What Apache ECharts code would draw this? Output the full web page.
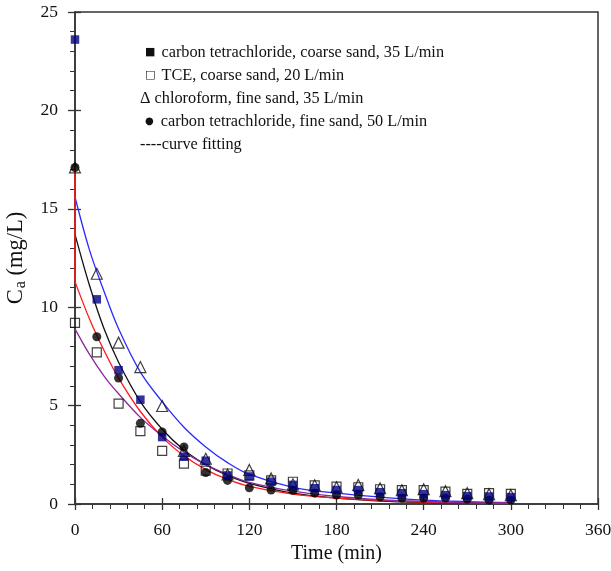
<!DOCTYPE html>
<html>
<head>
<meta charset="utf-8">
<script src="https://cdn.jsdelivr.net/npm/echarts@6/dist/echarts.min.js"></script>
<style>
  html, body { margin: 0; padding: 0; background: #fff; }
  #chart { width: 611px; height: 571px; }
</style>
</head>
<body>
<div id="chart"></div>
<script>
// Sampling times (min) for the measured concentrations
const times = [0, 15, 30, 45, 60, 75, 90, 105, 120, 135, 150, 165, 180, 195, 210, 225, 240, 255, 270, 285, 300];

// Measured Ca (mg/L)
const ctCoarse35 = [23.6, 10.4, 6.8, 5.3, 3.4, 2.4, 2.2, 1.45, 1.4, 1.13, 0.97, 0.8, 0.71, 0.71, 0.6, 0.55, 0.5, 0.45, 0.4, 0.38, 0.35];
const tceCoarse20 = [9.2, 7.7, 5.1, 3.7, 2.7, 2.05, 1.7, 1.55, 1.45, 1.2, 1.13, 0.95, 0.88, 0.85, 0.75, 0.71, 0.71, 0.63, 0.51, 0.55, 0.51];
const chloroFine35 = [17.1, 11.7, 8.2, 6.96, 4.98, 2.7, 2.3, 1.5, 1.73, 1.3, 1.0, 0.95, 0.85, 0.97, 0.8, 0.7, 0.75, 0.65, 0.55, 0.5, 0.45];
const ctFine50 = [17.1, 8.5, 6.4, 4.1, 3.66, 2.9, 1.6, 1.2, 0.82, 0.71, 0.7, 0.55, 0.46, 0.46, 0.37, 0.3, 0.3, 0.3, 0.25, 0.2, 0.2];

// Fitted curves, sampled along time
const fitTimes = [0, 10, 20, 30, 45, 60, 75, 90, 105, 120, 150, 180, 210, 240, 270, 300];
const fitChloro = [15.6, 12.9, 10.8, 8.9, 6.7, 5.2, 3.9, 2.9, 2.1, 1.5, 0.85, 0.55, 0.35, 0.2, 0.12, 0.07];
const fitCtCoarse = [13.7, 11.1, 8.9, 7.2, 5.2, 3.8, 2.75, 2.0, 1.45, 1.05, 0.55, 0.3, 0.15, 0.08, 0.05, 0.03];
const fitCtFine = [11.3, 9.4, 7.8, 6.4, 4.7, 3.4, 2.45, 1.75, 1.25, 0.9, 0.5, 0.3, 0.18, 0.1, 0.06, 0.03];
const fitTce = [8.9, 7.6, 6.5, 5.6, 4.4, 3.45, 2.65, 2.0, 1.5, 1.1, 0.65, 0.38, 0.22, 0.13, 0.08, 0.05];
// Red fit joins the first fine-sand point at t = 0
const fitCtFineStart = [17.1, 11.3];

// Axis ticks
const xTicks = [0, 60, 120, 180, 240, 300, 360];
const yTicks = [0, 5, 10, 15, 20, 25];

const legendLines = [
  '{sq|\u25A0} carbon tetrachloride, coarse sand, 35 L/min',
  '{sq|\u25A1} TCE, coarse sand, 20 L/min',
  '\u0394 chloroform, fine sand, 35 L/min',
  '{dot|\u25CF} carbon tetrachloride, fine sand, 50 L/min',
  '----curve fitting'
];

const pair = (xs, ys) => xs.map((x, i) => [x, ys[i]]);
const serif = '"Liberation Serif", "DejaVu Serif", serif';
const axisColor = '#333';
const textColor = '#111';

const baseX = {
  type: 'value', min: xTicks[0], max: xTicks[xTicks.length - 1], interval: 60,
  position: 'bottom', splitLine: { show: false }
};
const baseY = {
  type: 'value', min: yTicks[0], max: yTicks[yTicks.length - 1], interval: 5,
  position: 'left', splitLine: { show: false }
};

const fitLine = (name, xs, ys, color) => ({
  name, type: 'line', data: pair(xs, ys), showSymbol: false, symbol: 'none',
  smooth: 0.35, lineStyle: { color, width: 1.3 }, z: 3, silent: true
});

const chart = echarts.init(document.getElementById('chart'), null, { renderer: 'canvas' });
chart.setOption({
  animation: false,
  backgroundColor: '#fff',
  grid: {
    left: 75, right: 13, top: 12, bottom: 67, containLabel: false, outerBoundsMode: 'none',
    show: true, borderColor: axisColor, borderWidth: 1.5, backgroundColor: 'transparent'
  },
  title: {
    text: legendLines.join('\n'),
    left: 135, top: 36,
    textStyle: {
      fontFamily: serif, fontSize: 16.3, fontWeight: 'normal', color: textColor, lineHeight: 23,
      rich: {
        sq: { fontFamily: '"DejaVu Sans", sans-serif', fontSize: 11, color: textColor, lineHeight: 23, padding: [0, 2, 0, 5] },
        dot: { fontFamily: '"DejaVu Sans", sans-serif', fontSize: 10, color: textColor, lineHeight: 23, padding: [0, 3, 0, 5] }
      }
    }
  },
  xAxis: [
    Object.assign({}, baseX, {
      name: 'Time (min)', nameLocation: 'middle', nameGap: 38,
      nameTextStyle: { fontFamily: serif, fontSize: 20, color: textColor },
      axisLine: { show: true, lineStyle: { color: axisColor, width: 1.5 } },
      axisTick: { show: true, inside: false, length: 6, lineStyle: { color: axisColor, width: 1.3 } },
      minorTick: { show: true, splitNumber: 5, length: 5, lineStyle: { color: axisColor, width: 1 } },
      axisLabel: { fontFamily: serif, fontSize: 17.5, color: textColor, margin: 17 }
    }),
    Object.assign({}, baseX, {
      axisLine: { show: false }, axisLabel: { show: false },
      axisTick: { show: true, inside: true, length: 6, lineStyle: { color: axisColor, width: 1.3 } }
    })
  ],
  yAxis: [
    Object.assign({}, baseY, {
      name: '{c|C}{s|a}{c| (mg/L)}', nameLocation: 'middle', nameGap: 46, nameRotate: 90,
      nameTextStyle: {
        rich: {
          c: { fontFamily: serif, fontSize: 22.5, color: textColor, lineHeight: 26, verticalAlign: 'middle' },
          s: { fontFamily: serif, fontSize: 16, color: textColor, lineHeight: 26, verticalAlign: 'bottom', padding: [5, 0, 0, 1] }
        }
      },
      axisLine: { show: true, lineStyle: { color: axisColor, width: 1.5 } },
      axisTick: { show: true, inside: false, length: 7, lineStyle: { color: axisColor, width: 1.3 } },
      minorTick: { show: true, splitNumber: 5, length: 5, lineStyle: { color: axisColor, width: 1 } },
      axisLabel: { fontFamily: serif, fontSize: 17.5, color: textColor, margin: 17 }
    }),
    Object.assign({}, baseY, {
      axisLine: { show: false }, axisLabel: { show: false },
      axisTick: { show: true, inside: true, length: 6, lineStyle: { color: axisColor, width: 1.3 } }
    })
  ],
  series: [
    fitLine('fit chloroform', fitTimes, fitChloro, '#2a2aff'),
    fitLine('fit CT coarse', fitTimes, fitCtCoarse, '#111'),
    fitLine('fit CT fine', fitTimes, fitCtFine, '#ff1a1a'),
    fitLine('fit TCE', fitTimes, fitTce, '#8a2a9a'),
    {
      name: 'fit CT fine start', type: 'line', data: pair([0, 0], fitCtFineStart), symbol: 'none',
      lineStyle: { color: '#ff1a1a', width: 1.5 }, z: 3, silent: true
    },
    {
      name: 'chloroform, fine sand, 35 L/min', type: 'scatter', data: pair(times, chloroFine35),
      symbol: 'triangle', symbolSize: 11, z: 4,
      itemStyle: { color: 'rgba(255,255,255,0)', borderColor: '#111', borderWidth: 1.2 }
    },
    {
      name: 'TCE, coarse sand, 20 L/min', type: 'scatter', data: pair(times, tceCoarse20),
      symbol: 'rect', symbolSize: 9, z: 4,
      itemStyle: { color: 'rgba(255,255,255,0)', borderColor: '#111', borderWidth: 1.2 }
    },
    {
      name: 'carbon tetrachloride, fine sand, 50 L/min', type: 'scatter', data: pair(times, ctFine50),
      symbol: 'circle', symbolSize: 9, z: 5,
      itemStyle: { color: '#000' }
    },
    {
      name: 'carbon tetrachloride, coarse sand, 35 L/min', type: 'scatter', data: pair(times, ctCoarse35),
      symbol: 'rect', symbolSize: 8.5, z: 5,
      itemStyle: { color: '#000080' }
    }
  ]
});
</script>
</body>
</html>
